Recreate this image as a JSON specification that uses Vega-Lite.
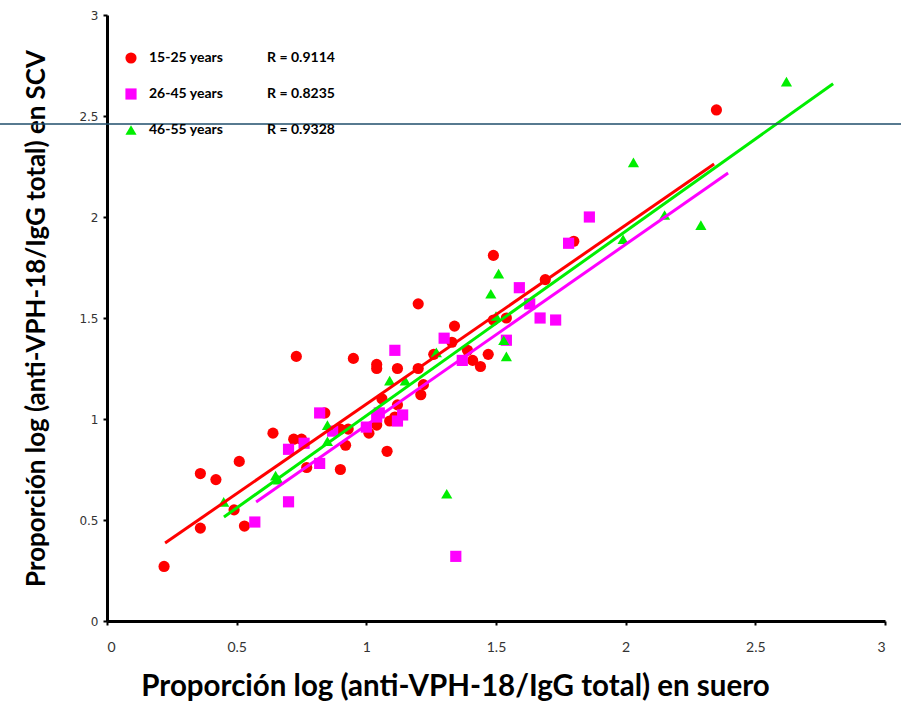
{
  "$schema": "https://vega.github.io/schema/vega-lite/v6.json",
  "autosize": "none",
  "padding": {"left": 107, "top": 15, "right": 16, "bottom": 83},
  "width": 778,
  "height": 606,
  "background": "white",
  "config": {"view": {"stroke": null}},
  "datasets": {
    "pts": [
      {"group": "15-25 years", "x": 0.22, "y": 0.27},
      {"group": "15-25 years", "x": 0.36, "y": 0.46},
      {"group": "15-25 years", "x": 0.36, "y": 0.73},
      {"group": "15-25 years", "x": 0.42, "y": 0.70},
      {"group": "15-25 years", "x": 0.51, "y": 0.79},
      {"group": "15-25 years", "x": 0.49, "y": 0.55},
      {"group": "15-25 years", "x": 0.53, "y": 0.47},
      {"group": "15-25 years", "x": 0.64, "y": 0.93},
      {"group": "15-25 years", "x": 0.72, "y": 0.90},
      {"group": "15-25 years", "x": 0.75, "y": 0.90},
      {"group": "15-25 years", "x": 0.73, "y": 1.31},
      {"group": "15-25 years", "x": 0.77, "y": 0.76},
      {"group": "15-25 years", "x": 0.84, "y": 1.03},
      {"group": "15-25 years", "x": 0.90, "y": 0.95},
      {"group": "15-25 years", "x": 0.93, "y": 0.95},
      {"group": "15-25 years", "x": 0.92, "y": 0.87},
      {"group": "15-25 years", "x": 0.90, "y": 0.75},
      {"group": "15-25 years", "x": 0.95, "y": 1.30},
      {"group": "15-25 years", "x": 1.01, "y": 0.93},
      {"group": "15-25 years", "x": 1.04, "y": 1.25},
      {"group": "15-25 years", "x": 1.04, "y": 1.27},
      {"group": "15-25 years", "x": 1.12, "y": 1.25},
      {"group": "15-25 years", "x": 1.06, "y": 1.10},
      {"group": "15-25 years", "x": 1.12, "y": 1.07},
      {"group": "15-25 years", "x": 1.04, "y": 0.97},
      {"group": "15-25 years", "x": 1.09, "y": 0.99},
      {"group": "15-25 years", "x": 1.11, "y": 1.01},
      {"group": "15-25 years", "x": 1.08, "y": 0.84},
      {"group": "15-25 years", "x": 1.20, "y": 1.25},
      {"group": "15-25 years", "x": 1.20, "y": 1.57},
      {"group": "15-25 years", "x": 1.21, "y": 1.12},
      {"group": "15-25 years", "x": 1.22, "y": 1.17},
      {"group": "15-25 years", "x": 1.26, "y": 1.32},
      {"group": "15-25 years", "x": 1.33, "y": 1.38},
      {"group": "15-25 years", "x": 1.34, "y": 1.46},
      {"group": "15-25 years", "x": 1.39, "y": 1.34},
      {"group": "15-25 years", "x": 1.41, "y": 1.29},
      {"group": "15-25 years", "x": 1.44, "y": 1.26},
      {"group": "15-25 years", "x": 1.47, "y": 1.32},
      {"group": "15-25 years", "x": 1.49, "y": 1.49},
      {"group": "15-25 years", "x": 1.54, "y": 1.50},
      {"group": "15-25 years", "x": 1.49, "y": 1.81},
      {"group": "15-25 years", "x": 1.69, "y": 1.69},
      {"group": "15-25 years", "x": 1.80, "y": 1.88},
      {"group": "15-25 years", "x": 2.35, "y": 2.53},
      {"group": "26-45 years", "x": 0.57, "y": 0.49},
      {"group": "26-45 years", "x": 0.70, "y": 0.59},
      {"group": "26-45 years", "x": 0.70, "y": 0.85},
      {"group": "26-45 years", "x": 0.76, "y": 0.88},
      {"group": "26-45 years", "x": 0.82, "y": 0.78},
      {"group": "26-45 years", "x": 0.82, "y": 1.03},
      {"group": "26-45 years", "x": 0.87, "y": 0.94},
      {"group": "26-45 years", "x": 1.00, "y": 0.96},
      {"group": "26-45 years", "x": 1.04, "y": 1.01},
      {"group": "26-45 years", "x": 1.05, "y": 1.03},
      {"group": "26-45 years", "x": 1.12, "y": 0.99},
      {"group": "26-45 years", "x": 1.14, "y": 1.02},
      {"group": "26-45 years", "x": 1.11, "y": 1.34},
      {"group": "26-45 years", "x": 1.30, "y": 1.40},
      {"group": "26-45 years", "x": 1.37, "y": 1.29},
      {"group": "26-45 years", "x": 1.345, "y": 0.32},
      {"group": "26-45 years", "x": 1.54, "y": 1.39},
      {"group": "26-45 years", "x": 1.59, "y": 1.65},
      {"group": "26-45 years", "x": 1.63, "y": 1.57},
      {"group": "26-45 years", "x": 1.67, "y": 1.50},
      {"group": "26-45 years", "x": 1.73, "y": 1.49},
      {"group": "26-45 years", "x": 1.78, "y": 1.87},
      {"group": "26-45 years", "x": 1.86, "y": 2.00},
      {"group": "46-55 years", "x": 0.45, "y": 0.59},
      {"group": "46-55 years", "x": 0.65, "y": 0.72},
      {"group": "46-55 years", "x": 0.66, "y": 0.70},
      {"group": "46-55 years", "x": 0.85, "y": 0.97},
      {"group": "46-55 years", "x": 0.85, "y": 0.89},
      {"group": "46-55 years", "x": 1.09, "y": 1.19},
      {"group": "46-55 years", "x": 1.15, "y": 1.19},
      {"group": "46-55 years", "x": 1.27, "y": 1.33},
      {"group": "46-55 years", "x": 1.31, "y": 0.63},
      {"group": "46-55 years", "x": 1.48, "y": 1.62},
      {"group": "46-55 years", "x": 1.51, "y": 1.72},
      {"group": "46-55 years", "x": 1.50, "y": 1.51},
      {"group": "46-55 years", "x": 1.53, "y": 1.39},
      {"group": "46-55 years", "x": 1.54, "y": 1.31},
      {"group": "46-55 years", "x": 1.99, "y": 1.89},
      {"group": "46-55 years", "x": 2.03, "y": 2.27},
      {"group": "46-55 years", "x": 2.15, "y": 2.01},
      {"group": "46-55 years", "x": 2.29, "y": 1.96},
      {"group": "46-55 years", "x": 2.62, "y": 2.67}
    ],
    "fits": [
      {"group": "15-25 years", "x": 0.224, "y": 0.386},
      {"group": "15-25 years", "x": 2.341, "y": 2.262},
      {"group": "26-45 years", "x": 0.575, "y": 0.589},
      {"group": "26-45 years", "x": 2.395, "y": 2.218},
      {"group": "46-55 years", "x": 0.451, "y": 0.515},
      {"group": "46-55 years", "x": 2.80, "y": 2.66}
    ],
    "hline": [
      {"y": 2.46, "x": -0.42, "x2": 3.07}
    ]
  },
  "layer": [
    {
      "data": {"name": "pts"},
      "mark": {"type": "point", "filled": true, "opacity": 1, "size": 125},
      "encoding": {
        "x": {
          "field": "x", "type": "quantitative",
          "scale": {"domain": [0, 3], "nice": false, "zero": false},
          "axis": {
            "title": "Proporción log (anti-VPH-18/IgG total) en suero",
            "values": [0, 0.5, 1, 1.5, 2, 2.5, 3],
            "format": "~g", "grid": false,
            "domainColor": "black", "domainWidth": 3,
            "tickColor": "black", "tickWidth": 2, "tickSize": 4,
            "labelFont": "Lato", "labelFontSize": 14, "labelColor": "#333333", "labelPadding": 15,
            "titleFont": "Lato", "titleFontSize": 29.5, "titleFontWeight": "bold", "titleColor": "black",
            "titlePadding": 18, "titleX": 348, "titleAnchor": "middle"
          }
        },
        "y": {
          "field": "y", "type": "quantitative",
          "scale": {"domain": [0, 3], "nice": false, "zero": false},
          "axis": {
            "title": "Proporción log (anti-VPH-18/IgG total) en SCV",
            "values": [0, 0.5, 1, 1.5, 2, 2.5, 3],
            "format": "~g", "grid": false,
            "domainColor": "black", "domainWidth": 3,
            "tickColor": "black", "tickWidth": 2, "tickSize": 4,
            "labelFont": "DejaVu Sans", "labelFontSize": 12, "labelColor": "#333333", "labelPadding": 5,
            "titleFont": "Lato", "titleFontSize": 25.9, "titleFontWeight": "bold", "titleColor": "black", "titlePadding": 29
          }
        },
        "color": {
          "field": "group", "type": "nominal",
          "scale": {"domain": ["15-25 years", "26-45 years", "46-55 years"], "range": ["#ff0000", "#ff00ff", "#00ee00"]},
          "legend": {
            "title": null, "orient": "none", "legendX": 17, "legendY": 36,
            "rowPadding": 22, "symbolSize": 125, "symbolStrokeWidth": 0,
            "labelFont": "Lato", "labelFontSize": 14, "labelFontWeight": "bold", "labelColor": "black",
            "labelOffset": 11, "labelLimit": 400,
            "labelExpr": "datum.label + '\u00a0\u00a0\u00a0\u00a0\u00a0\u00a0\u00a0\u00a0\u00a0\u00a0\u00a0\u00a0\u00a0' + ({'15-25 years': 'R = 0.9114', '26-45 years': 'R = 0.8235', '46-55 years': 'R = 0.9328'})[datum.label]"
          }
        },
        "shape": {
          "field": "group", "type": "nominal",
          "scale": {"domain": ["15-25 years", "26-45 years", "46-55 years"], "range": ["circle", "square", "triangle-up"]}
        }
      }
    },
    {
      "data": {"name": "fits"},
      "mark": {"type": "line", "strokeWidth": 3},
      "encoding": {
        "x": {"field": "x", "type": "quantitative"},
        "y": {"field": "y", "type": "quantitative"},
        "detail": {"field": "group"},
        "color": {"field": "group", "type": "nominal"}
      }
    },
    {
      "data": {"name": "hline"},
      "mark": {"type": "rule", "color": "#1f4e6b", "strokeWidth": 1.5, "clip": false},
      "encoding": {
        "y": {"field": "y", "type": "quantitative"},
        "x": {"field": "x", "type": "quantitative"},
        "x2": {"field": "x2"}
      }
    }
  ]
}
